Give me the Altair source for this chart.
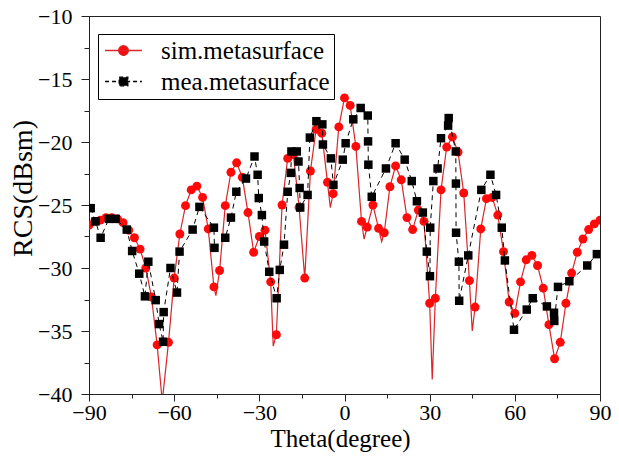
import altair as alt
import pandas as pd

# ---------------- data ----------------
series_names = ["sim.metasurface", "mea.metasurface"]

# simulated curve: marker positions (2 degree steps)
sim_theta = [-90, -88, -86, -84, -82, -80, -78, -76, -74, -72, -70, -68, -66,
             -62, -60, -58, -56, -54, -52, -50, -48, -46, -44, -42, -40, -38, -36,
             -34, -32, -30, -28, -26, -24, -22, -20, -18, -16, -14, -12, -10, -8,
             -6, -4, -2, 0, 2, 4, 6, 8, 10, 12, 14, 16, 18, 20, 22, 24, 26, 28, 30,
             32, 34, 36, 38, 40, 42, 44, 46, 48, 50, 52, 54, 56, 58, 60, 62, 64,
             66, 68, 70, 72, 74, 76, 78, 80, 82, 84, 86, 88, 90]
sim_rcs = [-26.6, -26.3, -26.2, -26.0, -26.0, -26.1, -26.4, -27.0, -27.6, -28.5,
           -30.0, -32.3, -36.1,
           -35.9, -30.8, -27.3, -25.05, -23.8, -23.5, -24.4, -26.9, -31.5, -30.2,
           -25.05, -22.4, -21.65, -22.8, -25.6, -28.75, -27.5, -27.0, -31.1, -35.3,
           -25.0, -21.3, -21.0, -25.2, -30.8, -22.3, -19.0, -19.3, -23.2, -24.1,
           -18.8, -16.5, -17.1, -20.35, -26.3, -26.75, -25.0, -26.85, -27.2,
           -23.55, -21.9, -23.0, -26.0, -26.95, -25.4, -26.3, -32.8, -32.4, -23.8,
           -20.4, -19.6, -20.8, -24.05, -31.0, -33.1, -26.9, -24.5, -24.4, -25.8,
           -28.7, -32.7, -33.6, -31.1, -29.35, -29.0, -29.8, -31.6, -34.5, -37.2,
           -35.9, -32.8, -30.4, -28.75, -27.7, -26.95, -26.5, -26.2]

# simulated curve: deep nulls of the continuous line between markers
sim_null_theta = [-64.2, -45.3, -25.1, -5.0, 6.9, 13.1, 30.9, 45.0]
sim_null_rcs = [-40.6, -32.2, -36.2, -25.2, -27.7, -27.9, -38.85, -35.0]

# measured curve (in drawing order)
mea_theta = [-89.4, -87.7, -85.9, -83.0, -80.6, -76.7, -74.8, -72.3, -70.3, -69.1,
             -66.5, -65.3, -63.9, -63.7, -61.3, -59.0, -58.1, -53.5, -51.1, -46.0,
             -45.8, -42.0, -40.0, -38.1, -34.7, -31.7, -30.6, -30.2, -29.1, -28.3,
             -26.5, -23.9, -22.8, -21.3, -20.0, -18.9, -18.7, -16.8, -16.2, -15.8,
             -15.6, -13.0, -12.2, -9.9, -7.8, -7.6, -4.8, -3.9, -0.6, 0.4, 3.1, 5.7,
             8.2, 8.3, 8.4, 9.6, 14.6, 18.0, 21.2, 23.7, 25.5, 27.6, 29.0, 30.1, 30.2,
             31.3, 32.8, 34.0, 36.5, 36.7, 39.2, 39.25, 39.3, 40.3, 40.4, 43.6, 48.2,
             51.4, 53.4, 55.4, 56.5, 59.7, 64.2, 66.3, 71.3, 73.8, 73.9, 75.2, 79.2,
             85.5, 88.9]
mea_rcs = [-25.25, -26.3, -27.6, -26.1, -26.1, -26.95, -28.65, -30.45, -32.25, -29.5,
           -32.55, -34.45, -35.85, -33.5, -30.0, -31.95, -28.7, -26.95, -25.15, -26.8,
           -28.4, -27.6, -26.0, -23.95, -22.9, -21.15, -22.6, -24.45, -25.8, -27.9,
           -30.3, -32.4, -30.15, -28.15, -23.95, -22.45, -20.75, -20.75, -21.55, -23.65,
           -25.2, -24.2, -19.65, -18.35, -18.6, -20.2, -21.3, -23.4, -21.4, -20.1, -18.2,
           -17.3, -17.9, -19.95, -21.8, -24.35, -22.1, -20.1, -21.4, -23.1, -24.7, -25.6,
           -28.7, -30.65, -26.8, -23.1, -22.1, -19.7, -18.7, -18.1, -20.75, -23.3, -27.2,
           -29.5, -32.6, -29.0, -23.8, -22.6, -24.2, -26.8, -29.4, -34.9, -33.3, -32.4,
           -33.05, -33.55, -34.2, -31.5, -31.05, -29.8, -28.9]

x_major = [-90, -60, -30, 0, 30, 60, 90]
x_minor = [-75, -45, -15, 15, 45, 75]
y_major = [-40, -35, -30, -25, -20, -15, -10]
y_minor = [-37.5, -32.5, -27.5, -22.5, -17.5, -12.5]

# ---------------- tables ----------------
sim_pts = pd.DataFrame({"theta": sim_theta, "rcs": sim_rcs})
sim_line = pd.concat([sim_pts, pd.DataFrame({"theta": sim_null_theta, "rcs": sim_null_rcs})])
sim_line = sim_line.sort_values("theta").reset_index(drop=True)
mea_df = pd.DataFrame({"theta": mea_theta, "rcs": mea_rcs, "idx": list(range(len(mea_theta)))})
legend_df = pd.DataFrame({"series": series_names, "theta": [0, 0], "rcs": [-25, -25]})

RED_LINE = "#d8262a"
RED_MARK = "#ff0a0a"
FONT = "Times New Roman, Liberation Serif, serif"

xscale = alt.Scale(domain=[-90, 90], nice=False, zero=False)
yscale = alt.Scale(domain=[-40, -10], nice=False, zero=False)

axis_common = dict(grid=False, domainColor="#222", tickColor="#222", domainWidth=1,
                   tickWidth=1, labelColor="black", titleColor="black",
                   labelFont=FONT, titleFont=FONT, labelFontWeight="normal",
                   titleFontWeight="normal")

x_axis_major = alt.Axis(values=x_major, orient="bottom", title="Theta(degree)",
                        tickSize=7, labelFontSize=22, labelPadding=1,
                        titleFontSize=25, titleX=251, titleY=44,
                        titleBaseline="middle", titleAlign="center",
                        labelFlush=False, **axis_common)
y_axis_major = alt.Axis(values=y_major, orient="left", title="RCS(dBsm)",
                        tickSize=8, labelFontSize=22, labelPadding=9,
                        titleFontSize=28, titleX=-66, titleY=172,
                        titleBaseline="middle", titleAlign="center", titleAngle=270,
                        **axis_common)
x_axis_minor = alt.Axis(values=x_minor, orient="bottom", title=None, labels=False,
                        domain=False, tickSize=4, grid=False, tickColor="#222")
y_axis_minor = alt.Axis(values=y_minor, orient="left", title=None, labels=False,
                        domain=False, tickSize=5, grid=False, tickColor="#222")

sim_path = ("M-2,0L2,0M0.52,0A0.52,0.52,0,1,1,-0.52,0A0.52,0.52,0,1,1,0.52,0Z")
mea_path = ("M-2,0L2,0M-0.47,-0.47L0.47,-0.47L0.47,0.47L-0.47,0.47Z")

leg = alt.Legend(title=None, orient="none", legendX=9, legendY=18, direction="vertical",
                 symbolSize=340, symbolStrokeWidth=1.3, symbolOffset=9, labelOffset=25,
                 labelFont=FONT, labelFontSize=25, labelColor="black", labelLimit=0,
                 strokeColor="black", fillColor="white", padding=4, rowPadding=5,
                 symbolOpacity=1, labelExpr="datum.label + '\u00a0\u00a0'")

sim_line_layer = alt.Chart(sim_line).mark_line(color=RED_LINE, strokeWidth=1.2, clip=True).encode(
    x=alt.X("theta:Q", scale=xscale, axis=x_axis_major),
    y=alt.Y("rcs:Q", scale=yscale, axis=y_axis_major),
)
sim_pt_layer = alt.Chart(sim_pts).mark_point(shape="circle", filled=True, size=80,
                                             color=RED_MARK, opacity=1, clip=True).encode(
    x=alt.X("theta:Q", scale=xscale, axis=None),
    y=alt.Y("rcs:Q", scale=yscale, axis=None),
)
mea_line_layer = alt.Chart(mea_df).mark_line(color="black", strokeWidth=1, strokeDash=[5, 4],
                                             clip=True).encode(
    x=alt.X("theta:Q", scale=xscale, axis=None),
    y=alt.Y("rcs:Q", scale=yscale, axis=None),
    order="idx:Q",
)
mea_pt_layer = alt.Chart(mea_df).mark_point(shape="square", filled=True, size=72,
                                            color="black", opacity=1, clip=True).encode(
    x=alt.X("theta:Q", scale=xscale, axis=None),
    y=alt.Y("rcs:Q", scale=yscale, axis=None),
)
legend_layer = alt.Chart(legend_df).transform_filter("false").mark_point(
    filled=True, size=340, opacity=1, strokeWidth=1.3).encode(
    x=alt.X("theta:Q", scale=xscale, axis=x_axis_minor),
    y=alt.Y("rcs:Q", scale=yscale, axis=y_axis_minor),
    fill=alt.Fill("series:N", scale=alt.Scale(domain=series_names, range=[RED_MARK, "black"]), legend=leg),
    stroke=alt.Stroke("series:N", scale=alt.Scale(domain=series_names, range=[RED_LINE, "black"]), legend=leg),
    shape=alt.Shape("series:N", scale=alt.Scale(domain=series_names, range=[sim_path, mea_path]), legend=leg),
    strokeDash=alt.StrokeDash("series:N", scale=alt.Scale(domain=series_names, range=[[1, 0], [4, 3]]), legend=leg),
)

chart = alt.layer(
    sim_line_layer, sim_pt_layer, mea_line_layer, mea_pt_layer, legend_layer
).resolve_scale(
    x="shared", y="shared"
).resolve_axis(
    x="independent", y="independent"
).properties(
    width=511, height=378,
    autosize=alt.AutoSizeParams(type="none"),
    padding={"left": 89, "top": 16, "right": 19, "bottom": 65},
    background="white",
).configure_view(
    stroke="#222", strokeWidth=1
)

chart.save("out.html", embed_options={"renderer": "svg", "actions": False})
